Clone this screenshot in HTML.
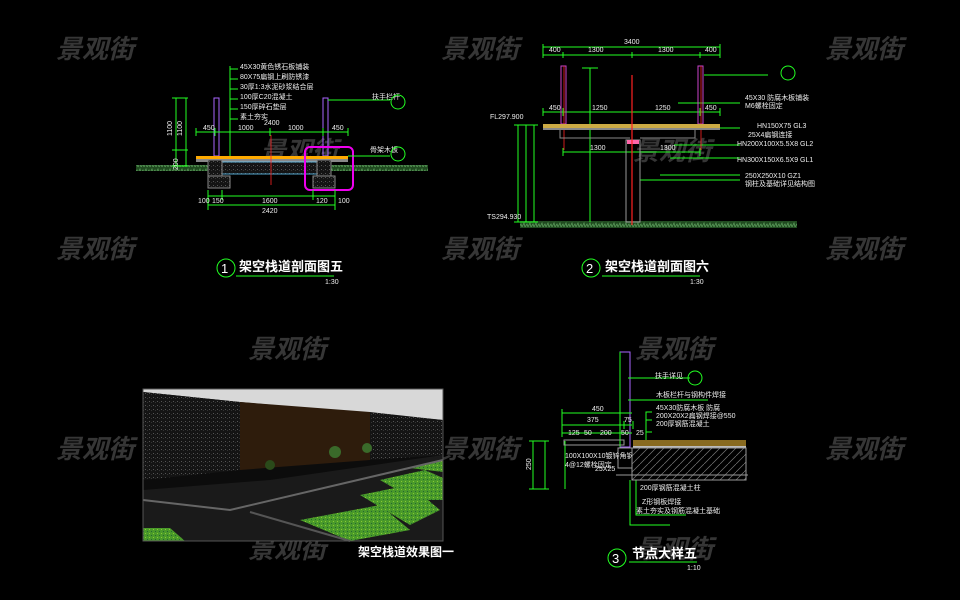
<!DOCTYPE html>
<html><head><meta charset="utf-8"><style>
html,body{margin:0;padding:0;background:#000;}
svg{display:block;}
.wm{font-family:"Liberation Sans","Noto Sans CJK SC",sans-serif;font-size:26px;font-style:italic;font-weight:bold;fill:#363636;}
.t{font-family:"Liberation Sans","Noto Sans CJK SC",sans-serif;fill:#fff;}
.s{font-family:"Liberation Sans",sans-serif;font-size:7px;fill:#eee;}
.g{stroke:#2f2;stroke-width:1;fill:none;}
</style></head><body>
<svg width="960" height="600" viewBox="0 0 960 600" xmlns="http://www.w3.org/2000/svg">
<rect width="960" height="600" fill="#000"/>
<defs>
<pattern id="grass" width="6" height="6" patternUnits="userSpaceOnUse"><rect width="6" height="6" fill="#1f4a1f"/><path d="M0 5 L2 1 L3 5 M3 5 L5 2 L6 5" stroke="#5a9a5a" stroke-width="0.8" fill="none"/></pattern>
<pattern id="hatch" width="8" height="8" patternUnits="userSpaceOnUse"><rect width="8" height="8" fill="#000"/><path d="M0 8 L8 0" stroke="#777" stroke-width="0.7"/></pattern>
<pattern id="stone" width="4" height="4" patternUnits="userSpaceOnUse"><rect width="4" height="4" fill="#141414"/><rect x="1" y="1" width="1" height="1" fill="#555"/><rect x="3" y="2" width="1" height="1" fill="#333"/></pattern>
<pattern id="lawn" width="4" height="4" patternUnits="userSpaceOnUse"><rect width="4" height="4" fill="#4a9a2a"/><rect x="1" y="1" width="1" height="1" fill="#8c3"/><rect x="3" y="3" width="1" height="1" fill="#263"/></pattern>
</defs>

<!-- watermarks -->
<g class="wm">
<text x="56" y="58">景观街</text><text x="441" y="58">景观街</text><text x="825" y="58">景观街</text>
<text x="56" y="258">景观街</text><text x="441" y="258">景观街</text><text x="825" y="258">景观街</text>
<text x="248" y="358">景观街</text><text x="635" y="358">景观街</text>
<text x="56" y="458">景观街</text><text x="441" y="458">景观街</text><text x="825" y="458">景观街</text>
<text x="248" y="558">景观街</text><text x="635" y="558">景观街</text>
<text x="633" y="160">景观街</text><text x="260" y="160">景观街</text>
</g>

<!-- ============ Drawing 1 ============ -->
<g>
<rect x="136" y="165" width="292" height="6" fill="url(#grass)"/>
<line x1="230" y1="66" x2="230" y2="160" class="g"/>
<g class="s"><text x="240" y="69">45X30黄色锈石板铺装</text><text x="240" y="79">80X75扁钢上刷防锈漆</text><text x="240" y="89">30厚1:3水泥砂浆结合层</text><text x="240" y="99">100厚C20混凝土</text><text x="240" y="109">150厚碎石垫层</text><text x="240" y="119">素土夯实</text></g>
<g class="g"><path d="M230 69h8M230 79h8M230 89h8M230 99h8M230 109h8M230 119h8"/></g>
<rect x="214" y="98" width="5" height="58" fill="none" stroke="#a6f" stroke-width="1"/>
<rect x="323" y="98" width="5" height="58" fill="none" stroke="#a6f" stroke-width="1"/>
<rect x="196" y="156" width="152" height="3" fill="#fa0"/>
<rect x="196" y="159" width="152" height="3" fill="#888"/>
<rect x="220" y="162" width="100" height="12" fill="url(#stone)" stroke="#6cf" stroke-width="0.8"/>
<rect x="208" y="160" width="14" height="16" fill="url(#stone)" stroke="#888"/>
<rect x="317" y="160" width="14" height="16" fill="url(#stone)" stroke="#888"/>
<rect x="208" y="176" width="22" height="12" fill="url(#stone)" stroke="#888"/>
<rect x="313" y="176" width="22" height="12" fill="url(#stone)" stroke="#888"/>
<line x1="271" y1="135" x2="271" y2="185" stroke="#f22" stroke-width="0.8"/>
<rect x="305" y="147" width="48" height="43" rx="5" fill="none" stroke="#e0e" stroke-width="2"/>
<g class="g"><path d="M196 132h152M196 128v8M215 128v8M270 128v8M323 128v8M348 128v8"/><path d="M176 98v68M186 98v68M172 98h16M172 150h16M172 166h16"/>
<path d="M208 196h127M208 205h127M208 190v20M222 190v10M313 190v10M335 190v20"/>
<path d="M328 100h62M348 156h42"/></g>
<g class="s"><text x="264" y="125">2400</text><text x="203" y="130">450</text><text x="238" y="130">1000</text><text x="288" y="130">1000</text><text x="332" y="130">450</text>
<text x="198" y="203">100</text><text x="212" y="203">150</text><text x="262" y="203">1600</text><text x="316" y="203">120</text><text x="338" y="203">100</text><text x="262" y="213">2420</text>
<text x="172" y="136" transform="rotate(-90 172 136)">1100</text><text x="182" y="136" transform="rotate(-90 182 136)">1100</text><text x="178" y="170" transform="rotate(-90 178 170)">200</text>
<text x="372" y="99">扶手栏杆</text><text x="370" y="152">骨架木板</text></g>
<circle cx="398" cy="102" r="7" class="g"/><circle cx="398" cy="154" r="7" class="g"/>
<circle cx="226" cy="268" r="9" class="g"/><text x="221" y="273" class="t" font-size="13">1</text>
<text x="239" y="271" class="t" font-size="13" font-weight="bold">架空栈道剖面图五</text>
<line x1="236" y1="276" x2="334" y2="276" class="g"/><text x="325" y="284" class="s">1:30</text>
</g>

<!-- ============ Drawing 2 ============ -->
<g>
<rect x="520" y="221" width="277" height="7" fill="url(#grass)"/>
<g class="g"><path d="M543 47h177M543 55h177M543 44v14M563 52v6M632 52v6M700 52v6M720 44v14"/>
<path d="M543 112h177M543 108v8M563 108v8M632 108v8M700 108v8M720 108v8"/>
<path d="M563 152h137M563 148v8M700 148v8"/>
<path d="M590 68v154M582 68h16"/><path d="M518 125v97M526 125v97M534 125v97M514 125h24M514 222h24"/>
<path d="M704 75h64M678 103h62M686 128h54M674 145h66M670 158h70M660 175h80M640 180h100"/></g>
<g class="s"><text x="624" y="44">3400</text><text x="549" y="52">400</text><text x="588" y="52">1300</text><text x="658" y="52">1300</text><text x="705" y="52">400</text>
<text x="549" y="110">450</text><text x="592" y="110">1250</text><text x="655" y="110">1250</text><text x="705" y="110">450</text>
<text x="590" y="150">1300</text><text x="660" y="150">1300</text>
<text x="490" y="119">FL297.900</text><text x="487" y="219">TS294.930</text>
<text x="745" y="100">45X30 防腐木板铺装</text><text x="745" y="108">M6螺栓固定</text><text x="757" y="128">HN150X75 GL3</text><text x="748" y="137">25X4扁钢连接</text>
<text x="737" y="146">HN200X100X5.5X8 GL2</text><text x="737" y="162">HN300X150X6.5X9 GL1</text><text x="745" y="178">250X250X10 GZ1</text><text x="745" y="186">钢柱及基础详见结构图</text></g>
<circle cx="788" cy="73" r="7" class="g"/>
<rect x="561" y="66" width="5" height="58" fill="none" stroke="#c4c" stroke-width="1"/>
<rect x="698" y="66" width="5" height="58" fill="none" stroke="#c4c" stroke-width="1"/>
<line x1="564" y1="66" x2="564" y2="150" stroke="#f22" stroke-width="0.8"/>
<line x1="701" y1="66" x2="701" y2="150" stroke="#f22" stroke-width="0.8"/>
<rect x="543" y="124" width="177" height="4" fill="#ca4"/>
<rect x="543" y="128" width="177" height="2" fill="#888"/>
<path d="M560 130v8h70M640 138h55v-8" stroke="#888" fill="none"/>
<rect x="626" y="140" width="14" height="82" fill="none" stroke="#999"/>
<rect x="627" y="140" width="12" height="4" fill="#f6a"/>
<line x1="632" y1="75" x2="632" y2="225" stroke="#f22" stroke-width="1.2"/>
<circle cx="591" cy="268" r="9" class="g"/><text x="586" y="273" class="t" font-size="13">2</text>
<text x="605" y="271" class="t" font-size="13" font-weight="bold">架空栈道剖面图六</text>
<line x1="602" y1="276" x2="700" y2="276" class="g"/><text x="690" y="284" class="s">1:30</text>
</g>

<!-- ============ Photo ============ -->
<g>
<rect x="143" y="389" width="300" height="152" fill="#0c0c0c"/>
<polygon points="143,389 443,389 443,420 330,410 240,402 143,392" fill="#d8d8d8"/>
<polygon points="143,392 240,402 240,470 143,480" fill="url(#stone)"/>
<polygon points="240,402 370,412 370,460 240,470" fill="#2e1c0c"/>
<polygon points="370,412 443,420 443,455 370,460" fill="url(#stone)"/>
<polygon points="143,490 270,480 443,455 443,541 143,541" fill="#1a1a1a"/>
<polygon points="300,520 380,505 410,530 350,541" fill="url(#lawn)"/>
<polygon points="360,495 410,485 440,510 410,525" fill="url(#lawn)"/>
<polygon points="380,480 425,470 443,478 443,500 415,500" fill="url(#lawn)"/>
<polygon points="410,468 443,460 443,472" fill="url(#lawn)"/>
<polygon points="143,528 170,528 185,541 143,541" fill="url(#lawn)"/>
<path d="M143 500 L230 510 L443 460" stroke="#666" stroke-width="2" fill="none"/>
<path d="M250 512 L350 541" stroke="#555" stroke-width="2"/>
<circle cx="335" cy="452" r="6" fill="#3a6a2a"/><circle cx="367" cy="448" r="5" fill="#3a6a2a"/><circle cx="270" cy="465" r="5" fill="#2a4a1a"/>
<rect x="143" y="389" width="300" height="152" fill="none" stroke="#555"/>
<text x="358" y="556" class="t" font-size="12" font-weight="bold">架空栈道效果图一</text>
</g>

<!-- ============ Drawing 3 ============ -->
<g>
<rect x="620" y="352" width="10" height="95" fill="none" stroke="#a6f"/>
<line x1="620" y1="352" x2="620" y2="447" stroke="#2f2"/>
<g class="g"><path d="M628 378h62M628 400h80M646 472v-60h6M646 412h6M646 420h6M646 432h6"/>
<path d="M562 413h70M562 425h70M562 433h70M562 409v28M624 421v8M633 421v8"/>
<path d="M533 441v48M545 441v48M529 441h20M529 489h20M565 441v48"/><path d="M636 480v35h50M630 480v45h40"/></g>
<circle cx="695" cy="378" r="7" class="g"/>
<g class="s"><text x="592" y="411">450</text><text x="587" y="422">375</text><text x="624" y="422">75</text><text x="568" y="435">125</text><text x="584" y="435">50</text><text x="600" y="435">200</text><text x="621" y="435">50</text><text x="636" y="435">25</text>
<text x="655" y="378">扶手详见</text><text x="656" y="397">木板栏杆与钢构件焊接</text><text x="656" y="410">45X30防腐木板 防腐</text><text x="656" y="418">200X20X2扁钢焊接@550</text><text x="656" y="426">200厚钢筋混凝土</text>
<text x="565" y="458">100X100X10镀锌角钢</text><text x="565" y="467">4@12螺栓固定</text><text x="595" y="471">25X25</text>
<text x="640" y="490">200厚钢筋混凝土柱</text><text x="642" y="504">Z形钢板焊接</text><text x="636" y="513">素土夯实及钢筋混凝土基础</text>
<text x="531" y="470" transform="rotate(-90 531 470)">250</text></g>
<rect x="564" y="440" width="60" height="5" fill="none" stroke="#999"/>
<rect x="633" y="440" width="113" height="6" fill="#886a20"/>
<rect x="633" y="446" width="113" height="2" fill="#bbb"/>
<rect x="632" y="448" width="114" height="32" fill="url(#hatch)" stroke="#999"/>
<rect x="618" y="448" width="14" height="20" fill="none" stroke="#999"/>
<path d="M616 475h132" stroke="#999"/>
<circle cx="617" cy="558" r="9" class="g"/><text x="612" y="563" class="t" font-size="13">3</text>
<text x="632" y="558" class="t" font-size="13" font-weight="bold">节点大样五</text>
<line x1="629" y1="562" x2="697" y2="562" class="g"/><text x="687" y="570" class="s">1:10</text>
</g>
</svg>
</body></html>
